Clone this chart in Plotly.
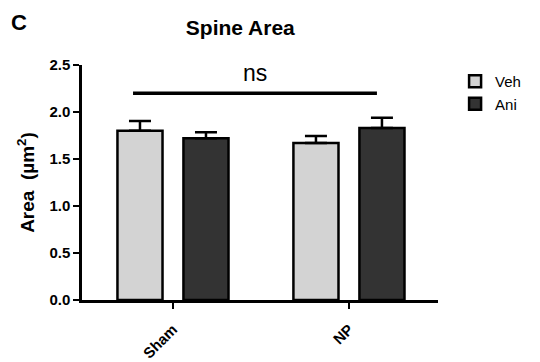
import plotly.graph_objects as go

categories = ["Sham", "NP"]
veh_values = [1.80, 1.67]
veh_err = [0.105, 0.075]
ani_values = [1.72, 1.83]
ani_err = [0.065, 0.11]
y_ticks = [0.0, 0.5, 1.0, 1.5, 2.0, 2.5]
y_tick_labels = ["0.0", "0.5", "1.0", "1.5", "2.0", "2.5"]
ns_x = [-0.227, 1.159]
ns_y = [2.2, 2.2]
ns_label_pos = (0.466, 2.42)

FONT = "Liberation Sans, Arial, sans-serif"

fig = go.Figure()
fig.add_trace(go.Bar(
    x=categories, y=veh_values, name="Veh",
    marker=dict(color="#d3d3d3", line=dict(color="black", width=2.5)),
    error_y=dict(type="data", array=veh_err, arrayminus=[0, 0], symmetric=False,
                 color="black", thickness=2.5, width=11),
))
fig.add_trace(go.Bar(
    x=categories, y=ani_values, name="Ani",
    marker=dict(color="#333333", line=dict(color="black", width=2.5)),
    error_y=dict(type="data", array=ani_err, arrayminus=[0, 0], symmetric=False,
                 color="black", thickness=2.5, width=11),
))
fig.add_trace(go.Scatter(
    x=ns_x, y=ns_y, mode="lines",
    line=dict(color="black", width=3.5), showlegend=False, hoverinfo="skip",
    xaxis="x2",
))

fig.update_layout(
    width=540, height=362,
    margin=dict(l=82, r=102, t=65, b=62),
    paper_bgcolor="white", plot_bgcolor="white",
    barmode="group", bargap=0.25, bargroupgap=0.317,
    font=dict(family=FONT, color="black"),
    showlegend=True,
    legend=dict(x=1.048, y=1.0, xanchor="left", yanchor="top",
                font=dict(size=15, family=FONT), tracegroupgap=0,
                itemwidth=30, bgcolor="rgba(0,0,0,0)"),
    xaxis=dict(range=[-0.517, 1.506], showline=True, linecolor="black", linewidth=2.5,
               ticks="outside", ticklen=6, tickwidth=2, tickcolor="black",
               tickangle=-45, tickfont=dict(size=15, family=FONT, weight="bold"),
               ticklabelstandoff=6, automargin=False,
               showgrid=False, zeroline=False),
    xaxis2=dict(range=[-0.517, 1.506], overlaying="x", visible=False),
    yaxis=dict(range=[0, 2.5], tickvals=y_ticks, ticktext=y_tick_labels,
               showline=True, linecolor="black", linewidth=2.5,
               ticks="outside", ticklen=6, tickwidth=2, tickcolor="black",
               tickfont=dict(size=15, family=FONT, weight="bold"),
               showgrid=False, zeroline=False, automargin=False,
               title=dict(text="Area  (µm<sup>2</sup>)", standoff=10,
                          font=dict(size=19, family=FONT, weight="bold"))),
    title=dict(text="<b>Spine Area</b>", x=0.445, xanchor="center", y=0.925, yanchor="middle",
               font=dict(size=21, family=FONT)),
    annotations=[
        dict(text="<b>C</b>", xref="paper", yref="paper", x=-0.205, y=1.0, xanchor="left",
             yanchor="bottom", showarrow=False, font=dict(size=22, family=FONT), yshift=28),
        dict(text="ns", xref="x2", yref="y", x=ns_label_pos[0], y=ns_label_pos[1],
             showarrow=False, font=dict(size=23, family=FONT), xanchor="center", yanchor="middle"),
    ],
)
fig.write_html("out.html")
